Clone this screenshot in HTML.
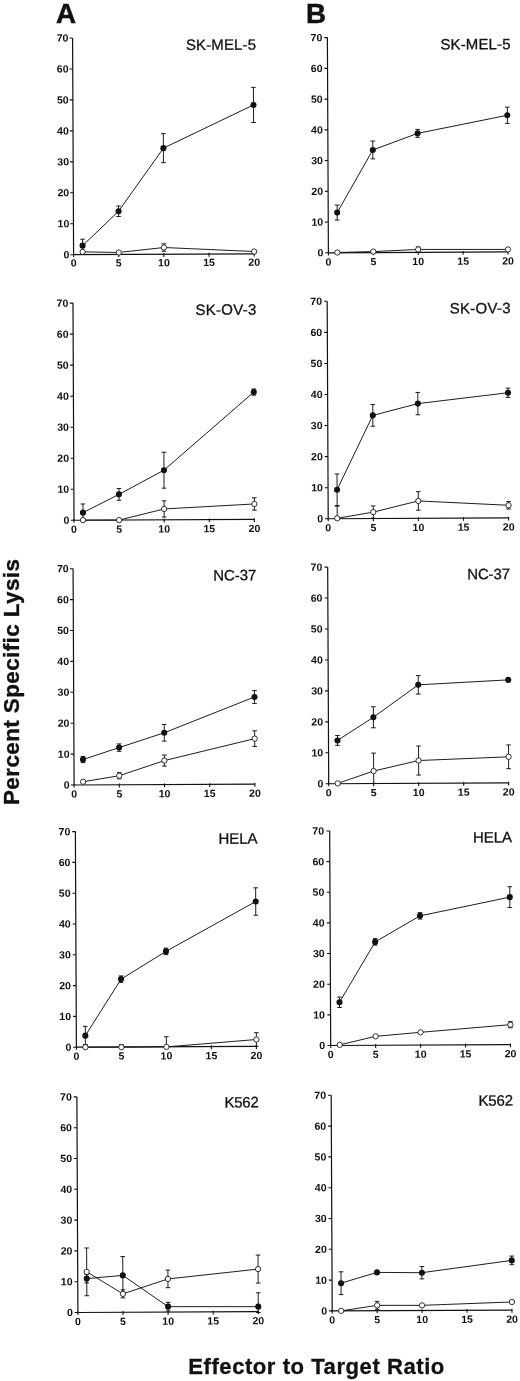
<!DOCTYPE html>
<html><head><meta charset="utf-8"><title>Figure</title>
<style>html,body{margin:0;padding:0;background:#fff}body{width:520px;height:1381px;overflow:hidden;font-family:"Liberation Sans",sans-serif}</style>
</head><body>
<svg width="520" height="1381" viewBox="0 0 520 1381" style="display:block;will-change:transform">
<rect width="520" height="1381" fill="#fff"/>
<g font-family="'Liberation Sans', sans-serif" fill="#111" font-weight="bold">
<text x="56.0" y="23.3" font-size="27.8" stroke="#111" stroke-width="0.5">A</text>
<text x="306.1" y="22.7" font-size="27.8" stroke="#111" stroke-width="0.5">B</text>
<text transform="translate(19.0,805) rotate(-90)" font-size="22.4" textLength="246" lengthAdjust="spacing" stroke="#111" stroke-width="0.35">Percent Specific Lysis</text>
<text x="188.3" y="1374.3" font-size="22.1" textLength="256" lengthAdjust="spacing" stroke="#111" stroke-width="0.3">Effector to Target Ratio</text>
</g>
<g transform="rotate(-0.27 73.60 254.70)">
<g stroke="#111" fill="none">
<path d="M73.60 37.98V254.70H254.20" stroke-width="1.2"/>
<path d="M70.40 254.70H73.60M70.40 223.74H73.60M70.40 192.78H73.60M70.40 161.82H73.60M70.40 130.86H73.60M70.40 99.90H73.60M70.40 68.94H73.60M70.40 37.98H73.60M73.60 253.50V257.30M118.75 253.50V257.30M163.90 253.50V257.30M209.05 253.50V257.30M254.20 253.50V257.30" stroke-width="1.1"/>
<polyline points="82.63,245.71 118.75,211.47 163.90,148.58 254.20,105.80" stroke-width="0.95"/>
<polyline points="82.63,251.88 118.75,252.67 163.90,247.94 254.20,252.38" stroke-width="0.95"/>
<path d="M82.63 245.71V239.23M80.33 239.23H84.93M82.63 245.71V252.19M80.33 252.19H84.93M118.75 211.47V206.23M116.45 206.23H121.05M118.75 211.47V216.72M116.45 216.72H121.05M163.90 148.58V134.07M161.60 134.07H166.20M163.90 148.58V163.08M161.60 163.08H166.20M254.20 105.80V88.21M251.90 88.21H256.50M254.20 105.80V123.39M251.90 123.39H256.50M163.90 247.94V244.24M161.60 244.24H166.20M163.90 247.94V251.65M161.60 251.65H166.20" stroke-width="0.95"/>
<circle cx="82.63" cy="245.71" r="3.05" fill="#111" stroke="none"/>
<circle cx="118.75" cy="211.47" r="3.05" fill="#111" stroke="none"/>
<circle cx="163.90" cy="148.58" r="3.05" fill="#111" stroke="none"/>
<circle cx="254.20" cy="105.80" r="3.05" fill="#111" stroke="none"/>
<circle cx="82.63" cy="251.88" r="2.65" fill="#fff" stroke-width="0.85"/>
<circle cx="118.75" cy="252.67" r="2.65" fill="#fff" stroke-width="0.85"/>
<circle cx="163.90" cy="247.94" r="2.65" fill="#fff" stroke-width="0.85"/>
<circle cx="254.20" cy="252.38" r="2.65" fill="#fff" stroke-width="0.85"/>
</g>
<g font-family="'Liberation Sans', sans-serif" fill="#111">
<text x="186.96" y="50.53" font-size="15" textLength="70.0" lengthAdjust="spacing" stroke="#111" stroke-width="0.3">SK-MEL-5</text>
<g font-size="10.4" font-weight="bold">
<text x="63.60" y="258.20" textLength="5.9" lengthAdjust="spacingAndGlyphs">0</text>
<text x="57.70" y="227.24" textLength="11.8" lengthAdjust="spacingAndGlyphs">10</text>
<text x="57.70" y="196.28" textLength="11.8" lengthAdjust="spacingAndGlyphs">20</text>
<text x="57.70" y="165.32" textLength="11.8" lengthAdjust="spacingAndGlyphs">30</text>
<text x="57.70" y="134.36" textLength="11.8" lengthAdjust="spacingAndGlyphs">40</text>
<text x="57.70" y="103.40" textLength="11.8" lengthAdjust="spacingAndGlyphs">50</text>
<text x="57.70" y="72.44" textLength="11.8" lengthAdjust="spacingAndGlyphs">60</text>
<text x="57.70" y="41.48" textLength="11.8" lengthAdjust="spacingAndGlyphs">70</text>
<text x="70.65" y="266.60" textLength="5.9" lengthAdjust="spacingAndGlyphs">0</text>
<text x="115.80" y="266.60" textLength="5.9" lengthAdjust="spacingAndGlyphs">5</text>
<text x="158.00" y="266.60" textLength="11.8" lengthAdjust="spacingAndGlyphs">10</text>
<text x="203.15" y="266.60" textLength="11.8" lengthAdjust="spacingAndGlyphs">15</text>
<text x="248.30" y="266.60" textLength="11.8" lengthAdjust="spacingAndGlyphs">20</text>
</g></g></g>
<g transform="rotate(-0.27 328.40 252.80)">
<g stroke="#111" fill="none">
<path d="M328.40 37.60V252.80H508.00" stroke-width="1.2"/>
<path d="M325.20 252.80H328.40M325.20 222.06H328.40M325.20 191.31H328.40M325.20 160.57H328.40M325.20 129.83H328.40M325.20 99.09H328.40M325.20 68.34H328.40M325.20 37.60H328.40M328.40 251.60V255.40M373.30 251.60V255.40M418.20 251.60V255.40M463.10 251.60V255.40M508.00 251.60V255.40" stroke-width="1.1"/>
<polyline points="337.38,212.63 373.30,150.17 418.20,133.81 508.00,116.12" stroke-width="0.95"/>
<polyline points="337.38,252.54 373.30,251.79 418.20,249.85 508.00,250.28" stroke-width="0.95"/>
<path d="M337.38 212.63V205.11M335.08 205.11H339.68M337.38 212.63V220.15M335.08 220.15H339.68M373.30 150.17V141.27M371.00 141.27H375.60M373.30 150.17V159.08M371.00 159.08H375.60M418.20 133.81V129.82M415.90 129.82H420.50M418.20 133.81V137.80M415.90 137.80H420.50M508.00 116.12V107.98M505.70 107.98H510.30M508.00 116.12V124.25M505.70 124.25H510.30M418.20 249.85V247.40M415.90 247.40H420.50M418.20 249.85V252.31M415.90 252.31H420.50" stroke-width="0.95"/>
<circle cx="337.38" cy="212.63" r="3.05" fill="#111" stroke="none"/>
<circle cx="373.30" cy="150.17" r="3.05" fill="#111" stroke="none"/>
<circle cx="418.20" cy="133.81" r="3.05" fill="#111" stroke="none"/>
<circle cx="508.00" cy="116.12" r="3.05" fill="#111" stroke="none"/>
<circle cx="337.38" cy="252.54" r="2.65" fill="#fff" stroke-width="0.85"/>
<circle cx="373.30" cy="251.79" r="2.65" fill="#fff" stroke-width="0.85"/>
<circle cx="418.20" cy="249.85" r="2.65" fill="#fff" stroke-width="0.85"/>
<circle cx="508.00" cy="250.28" r="2.65" fill="#fff" stroke-width="0.85"/>
</g>
<g font-family="'Liberation Sans', sans-serif" fill="#111">
<text x="441.46" y="50.03" font-size="15" textLength="70.0" lengthAdjust="spacing" stroke="#111" stroke-width="0.3">SK-MEL-5</text>
<g font-size="10.4" font-weight="bold">
<text x="317.50" y="256.30" textLength="5.9" lengthAdjust="spacingAndGlyphs">0</text>
<text x="311.60" y="225.56" textLength="11.8" lengthAdjust="spacingAndGlyphs">10</text>
<text x="311.60" y="194.81" textLength="11.8" lengthAdjust="spacingAndGlyphs">20</text>
<text x="311.60" y="164.07" textLength="11.8" lengthAdjust="spacingAndGlyphs">30</text>
<text x="311.60" y="133.33" textLength="11.8" lengthAdjust="spacingAndGlyphs">40</text>
<text x="311.60" y="102.59" textLength="11.8" lengthAdjust="spacingAndGlyphs">50</text>
<text x="311.60" y="71.84" textLength="11.8" lengthAdjust="spacingAndGlyphs">60</text>
<text x="311.60" y="41.10" textLength="11.8" lengthAdjust="spacingAndGlyphs">70</text>
<text x="325.45" y="265.40" textLength="5.9" lengthAdjust="spacingAndGlyphs">0</text>
<text x="370.35" y="265.40" textLength="5.9" lengthAdjust="spacingAndGlyphs">5</text>
<text x="412.30" y="265.40" textLength="11.8" lengthAdjust="spacingAndGlyphs">10</text>
<text x="457.20" y="265.40" textLength="11.8" lengthAdjust="spacingAndGlyphs">15</text>
<text x="502.10" y="265.40" textLength="11.8" lengthAdjust="spacingAndGlyphs">20</text>
</g></g></g>
<g transform="rotate(-0.27 74.00 520.25)">
<g stroke="#111" fill="none">
<path d="M74.00 303.10V520.25H254.40" stroke-width="1.2"/>
<path d="M70.80 520.25H74.00M70.80 489.23H74.00M70.80 458.21H74.00M70.80 427.19H74.00M70.80 396.16H74.00M70.80 365.14H74.00M70.80 334.12H74.00M70.80 303.10H74.00M74.00 519.05V522.85M119.10 519.05V522.85M164.20 519.05V522.85M209.30 519.05V522.85M254.40 519.05V522.85" stroke-width="1.1"/>
<polyline points="83.02,512.70 119.10,494.58 164.20,470.62 254.40,392.92" stroke-width="0.95"/>
<polyline points="83.02,520.14 119.10,520.31 164.20,509.37 254.40,504.83" stroke-width="0.95"/>
<path d="M83.02 512.70V504.02M80.72 504.02H85.32M83.02 512.70V521.38M80.72 521.38H85.32M119.10 494.58V488.69M116.80 488.69H121.40M119.10 494.58V500.47M116.80 500.47H121.40M164.20 470.62V452.64M161.90 452.64H166.50M164.20 470.62V488.60M161.90 488.60H166.50M254.40 392.92V389.82M252.10 389.82H256.70M254.40 392.92V396.02M252.10 396.02H256.70M164.20 509.37V501.31M161.90 501.31H166.50M164.20 509.37V517.43M161.90 517.43H166.50M254.40 504.83V498.63M252.10 498.63H256.70M254.40 504.83V511.03M252.10 511.03H256.70" stroke-width="0.95"/>
<circle cx="83.02" cy="512.70" r="3.05" fill="#111" stroke="none"/>
<circle cx="119.10" cy="494.58" r="3.05" fill="#111" stroke="none"/>
<circle cx="164.20" cy="470.62" r="3.05" fill="#111" stroke="none"/>
<circle cx="254.40" cy="392.92" r="3.05" fill="#111" stroke="none"/>
<circle cx="83.02" cy="520.14" r="2.65" fill="#fff" stroke-width="0.85"/>
<circle cx="119.10" cy="520.31" r="2.65" fill="#fff" stroke-width="0.85"/>
<circle cx="164.20" cy="509.37" r="2.65" fill="#fff" stroke-width="0.85"/>
<circle cx="254.40" cy="504.83" r="2.65" fill="#fff" stroke-width="0.85"/>
</g>
<g font-family="'Liberation Sans', sans-serif" fill="#111">
<text x="196.47" y="315.57" font-size="15" textLength="60.75" lengthAdjust="spacing" stroke="#111" stroke-width="0.3">SK-OV-3</text>
<g font-size="10.4" font-weight="bold">
<text x="63.50" y="523.75" textLength="5.9" lengthAdjust="spacingAndGlyphs">0</text>
<text x="57.60" y="492.73" textLength="11.8" lengthAdjust="spacingAndGlyphs">10</text>
<text x="57.60" y="461.71" textLength="11.8" lengthAdjust="spacingAndGlyphs">20</text>
<text x="57.60" y="430.69" textLength="11.8" lengthAdjust="spacingAndGlyphs">30</text>
<text x="57.60" y="399.66" textLength="11.8" lengthAdjust="spacingAndGlyphs">40</text>
<text x="57.60" y="368.64" textLength="11.8" lengthAdjust="spacingAndGlyphs">50</text>
<text x="57.60" y="337.62" textLength="11.8" lengthAdjust="spacingAndGlyphs">60</text>
<text x="57.60" y="306.60" textLength="11.8" lengthAdjust="spacingAndGlyphs">70</text>
<text x="71.05" y="532.85" textLength="5.9" lengthAdjust="spacingAndGlyphs">0</text>
<text x="116.15" y="532.85" textLength="5.9" lengthAdjust="spacingAndGlyphs">5</text>
<text x="158.30" y="532.85" textLength="11.8" lengthAdjust="spacingAndGlyphs">10</text>
<text x="203.40" y="532.85" textLength="11.8" lengthAdjust="spacingAndGlyphs">15</text>
<text x="248.50" y="532.85" textLength="11.8" lengthAdjust="spacingAndGlyphs">20</text>
</g></g></g>
<g transform="rotate(-0.27 328.20 518.75)">
<g stroke="#111" fill="none">
<path d="M328.20 301.30V518.75H508.60" stroke-width="1.2"/>
<path d="M325.00 518.75H328.20M325.00 487.69H328.20M325.00 456.62H328.20M325.00 425.56H328.20M325.00 394.49H328.20M325.00 363.43H328.20M325.00 332.36H328.20M325.00 301.30H328.20M328.20 517.55V521.35M373.30 517.55V521.35M418.40 517.55V521.35M463.50 517.55V521.35M508.60 517.55V521.35" stroke-width="1.1"/>
<polyline points="337.22,489.82 373.30,415.59 418.40,404.03 508.60,393.60" stroke-width="0.95"/>
<polyline points="337.22,518.34 373.30,512.31 418.40,501.37 508.60,506.13" stroke-width="0.95"/>
<path d="M337.22 489.82V474.01M334.92 474.01H339.52M337.22 489.82V505.63M334.92 505.63H339.52M373.30 415.59V404.74M371.00 404.74H375.60M373.30 415.59V426.44M371.00 426.44H375.60M418.40 404.03V392.87M416.10 392.87H420.70M418.40 404.03V415.19M416.10 415.19H420.70M508.60 393.60V388.95M506.30 388.95H510.90M508.60 393.60V398.25M506.30 398.25H510.90M337.22 518.34V506.25M334.92 506.25H339.52M373.30 512.31V506.11M371.00 506.11H375.60M373.30 512.31V518.51M371.00 518.51H375.60M418.40 501.37V492.07M416.10 492.07H420.70M418.40 501.37V510.67M416.10 510.67H420.70M508.60 506.13V502.41M506.30 502.41H510.90M508.60 506.13V509.85M506.30 509.85H510.90" stroke-width="0.95"/>
<circle cx="337.22" cy="489.82" r="3.05" fill="#111" stroke="none"/>
<circle cx="373.30" cy="415.59" r="3.05" fill="#111" stroke="none"/>
<circle cx="418.40" cy="404.03" r="3.05" fill="#111" stroke="none"/>
<circle cx="508.60" cy="393.60" r="3.05" fill="#111" stroke="none"/>
<circle cx="337.22" cy="518.34" r="2.65" fill="#fff" stroke-width="0.85"/>
<circle cx="373.30" cy="512.31" r="2.65" fill="#fff" stroke-width="0.85"/>
<circle cx="418.40" cy="501.37" r="2.65" fill="#fff" stroke-width="0.85"/>
<circle cx="508.60" cy="506.13" r="2.65" fill="#fff" stroke-width="0.85"/>
</g>
<g font-family="'Liberation Sans', sans-serif" fill="#111">
<text x="450.72" y="314.08" font-size="15" textLength="60.75" lengthAdjust="spacing" stroke="#111" stroke-width="0.3">SK-OV-3</text>
<g font-size="10.4" font-weight="bold">
<text x="317.20" y="522.25" textLength="5.9" lengthAdjust="spacingAndGlyphs">0</text>
<text x="311.30" y="491.19" textLength="11.8" lengthAdjust="spacingAndGlyphs">10</text>
<text x="311.30" y="460.12" textLength="11.8" lengthAdjust="spacingAndGlyphs">20</text>
<text x="311.30" y="429.06" textLength="11.8" lengthAdjust="spacingAndGlyphs">30</text>
<text x="311.30" y="397.99" textLength="11.8" lengthAdjust="spacingAndGlyphs">40</text>
<text x="311.30" y="366.93" textLength="11.8" lengthAdjust="spacingAndGlyphs">50</text>
<text x="311.30" y="335.86" textLength="11.8" lengthAdjust="spacingAndGlyphs">60</text>
<text x="311.30" y="304.80" textLength="11.8" lengthAdjust="spacingAndGlyphs">70</text>
<text x="325.25" y="531.35" textLength="5.9" lengthAdjust="spacingAndGlyphs">0</text>
<text x="370.35" y="531.35" textLength="5.9" lengthAdjust="spacingAndGlyphs">5</text>
<text x="412.50" y="531.35" textLength="11.8" lengthAdjust="spacingAndGlyphs">10</text>
<text x="457.60" y="531.35" textLength="11.8" lengthAdjust="spacingAndGlyphs">15</text>
<text x="502.70" y="531.35" textLength="11.8" lengthAdjust="spacingAndGlyphs">20</text>
</g></g></g>
<g transform="rotate(-0.27 74.10 785.00)">
<g stroke="#111" fill="none">
<path d="M74.10 568.70V785.00H254.90" stroke-width="1.2"/>
<path d="M70.90 785.00H74.10M70.90 754.10H74.10M70.90 723.20H74.10M70.90 692.30H74.10M70.90 661.40H74.10M70.90 630.50H74.10M70.90 599.60H74.10M70.90 568.70H74.10M74.10 783.80V787.60M119.30 783.80V787.60M164.50 783.80V787.60M209.70 783.80V787.60M254.90 783.80V787.60" stroke-width="1.1"/>
<polyline points="83.14,759.55 119.30,747.82 164.50,733.20 254.90,697.79" stroke-width="0.95"/>
<polyline points="83.14,781.80 119.30,775.94 164.50,761.01 254.90,739.50" stroke-width="0.95"/>
<path d="M83.14 759.55V756.46M80.84 756.46H85.44M83.14 759.55V762.64M80.84 762.64H85.44M119.30 747.82V744.12M117.00 744.12H121.60M119.30 747.82V751.53M117.00 751.53H121.60M164.50 733.20V724.86M162.20 724.86H166.80M164.50 733.20V741.55M162.20 741.55H166.80M254.90 697.79V691.30M252.60 691.30H257.20M254.90 697.79V704.28M252.60 704.28H257.20M119.30 775.94V772.85M117.00 772.85H121.60M119.30 775.94V779.03M117.00 779.03H121.60M164.50 761.01V755.45M162.20 755.45H166.80M164.50 761.01V766.58M162.20 766.58H166.80M254.90 739.50V731.62M252.60 731.62H257.20M254.90 739.50V747.38M252.60 747.38H257.20" stroke-width="0.95"/>
<circle cx="83.14" cy="759.55" r="3.05" fill="#111" stroke="none"/>
<circle cx="119.30" cy="747.82" r="3.05" fill="#111" stroke="none"/>
<circle cx="164.50" cy="733.20" r="3.05" fill="#111" stroke="none"/>
<circle cx="254.90" cy="697.79" r="3.05" fill="#111" stroke="none"/>
<circle cx="83.14" cy="781.80" r="2.65" fill="#fff" stroke-width="0.85"/>
<circle cx="119.30" cy="775.94" r="2.65" fill="#fff" stroke-width="0.85"/>
<circle cx="164.50" cy="761.01" r="2.65" fill="#fff" stroke-width="0.85"/>
<circle cx="254.90" cy="739.50" r="2.65" fill="#fff" stroke-width="0.85"/>
</g>
<g font-family="'Liberation Sans', sans-serif" fill="#111">
<text x="214.21" y="581.16" font-size="15" textLength="43.0" lengthAdjust="spacing" stroke="#111" stroke-width="0.3">NC-37</text>
<g font-size="10.4" font-weight="bold">
<text x="63.85" y="788.50" textLength="5.9" lengthAdjust="spacingAndGlyphs">0</text>
<text x="57.95" y="757.60" textLength="11.8" lengthAdjust="spacingAndGlyphs">10</text>
<text x="57.95" y="726.70" textLength="11.8" lengthAdjust="spacingAndGlyphs">20</text>
<text x="57.95" y="695.80" textLength="11.8" lengthAdjust="spacingAndGlyphs">30</text>
<text x="57.95" y="664.90" textLength="11.8" lengthAdjust="spacingAndGlyphs">40</text>
<text x="57.95" y="634.00" textLength="11.8" lengthAdjust="spacingAndGlyphs">50</text>
<text x="57.95" y="603.10" textLength="11.8" lengthAdjust="spacingAndGlyphs">60</text>
<text x="57.95" y="572.20" textLength="11.8" lengthAdjust="spacingAndGlyphs">70</text>
<text x="71.15" y="797.60" textLength="5.9" lengthAdjust="spacingAndGlyphs">0</text>
<text x="116.35" y="797.60" textLength="5.9" lengthAdjust="spacingAndGlyphs">5</text>
<text x="158.60" y="797.60" textLength="11.8" lengthAdjust="spacingAndGlyphs">10</text>
<text x="203.80" y="797.60" textLength="11.8" lengthAdjust="spacingAndGlyphs">15</text>
<text x="249.00" y="797.60" textLength="11.8" lengthAdjust="spacingAndGlyphs">20</text>
</g></g></g>
<g transform="rotate(-0.27 328.70 783.75)">
<g stroke="#111" fill="none">
<path d="M328.70 567.10V783.75H508.70" stroke-width="1.2"/>
<path d="M325.50 783.75H328.70M325.50 752.80H328.70M325.50 721.85H328.70M325.50 690.90H328.70M325.50 659.95H328.70M325.50 629.00H328.70M325.50 598.05H328.70M325.50 567.10H328.70M328.70 782.55V786.35M373.70 782.55V786.35M418.70 782.55V786.35M463.70 782.55V786.35M508.70 782.55V786.35" stroke-width="1.1"/>
<polyline points="337.70,740.49 373.70,717.49 418.70,685.25 508.70,680.73" stroke-width="0.95"/>
<polyline points="337.70,783.44 373.70,771.25 418.70,760.96 508.70,757.67" stroke-width="0.95"/>
<path d="M337.70 740.49V735.55M335.40 735.55H340.00M337.70 740.49V745.44M335.40 745.44H340.00M373.70 717.49V706.98M371.40 706.98H376.00M373.70 717.49V727.99M371.40 727.99H376.00M418.70 685.25V675.98M416.40 675.98H421.00M418.70 685.25V694.52M416.40 694.52H421.00M373.70 771.25V753.33M371.40 753.33H376.00M373.70 771.25V783.61M371.40 783.61H376.00M418.70 760.96V746.44M416.40 746.44H421.00M418.70 760.96V775.48M416.40 775.48H421.00M508.70 757.67V745.78M506.40 745.78H511.00M508.70 757.67V769.57M506.40 769.57H511.00" stroke-width="0.95"/>
<circle cx="337.70" cy="740.49" r="3.05" fill="#111" stroke="none"/>
<circle cx="373.70" cy="717.49" r="3.05" fill="#111" stroke="none"/>
<circle cx="418.70" cy="685.25" r="3.05" fill="#111" stroke="none"/>
<circle cx="508.70" cy="680.73" r="3.05" fill="#111" stroke="none"/>
<circle cx="337.70" cy="783.44" r="2.65" fill="#fff" stroke-width="0.85"/>
<circle cx="373.70" cy="771.25" r="2.65" fill="#fff" stroke-width="0.85"/>
<circle cx="418.70" cy="760.96" r="2.65" fill="#fff" stroke-width="0.85"/>
<circle cx="508.70" cy="757.67" r="2.65" fill="#fff" stroke-width="0.85"/>
</g>
<g font-family="'Liberation Sans', sans-serif" fill="#111">
<text x="468.21" y="579.91" font-size="15" textLength="42.75" lengthAdjust="spacing" stroke="#111" stroke-width="0.3">NC-37</text>
<g font-size="10.4" font-weight="bold">
<text x="317.45" y="787.25" textLength="5.9" lengthAdjust="spacingAndGlyphs">0</text>
<text x="311.55" y="756.30" textLength="11.8" lengthAdjust="spacingAndGlyphs">10</text>
<text x="311.55" y="725.35" textLength="11.8" lengthAdjust="spacingAndGlyphs">20</text>
<text x="311.55" y="694.40" textLength="11.8" lengthAdjust="spacingAndGlyphs">30</text>
<text x="311.55" y="663.45" textLength="11.8" lengthAdjust="spacingAndGlyphs">40</text>
<text x="311.55" y="632.50" textLength="11.8" lengthAdjust="spacingAndGlyphs">50</text>
<text x="311.55" y="601.55" textLength="11.8" lengthAdjust="spacingAndGlyphs">60</text>
<text x="311.55" y="570.60" textLength="11.8" lengthAdjust="spacingAndGlyphs">70</text>
<text x="325.75" y="796.35" textLength="5.9" lengthAdjust="spacingAndGlyphs">0</text>
<text x="370.75" y="796.35" textLength="5.9" lengthAdjust="spacingAndGlyphs">5</text>
<text x="412.80" y="796.35" textLength="11.8" lengthAdjust="spacingAndGlyphs">10</text>
<text x="457.80" y="796.35" textLength="11.8" lengthAdjust="spacingAndGlyphs">15</text>
<text x="502.80" y="796.35" textLength="11.8" lengthAdjust="spacingAndGlyphs">20</text>
</g></g></g>
<g transform="rotate(-0.27 76.40 1047.20)">
<g stroke="#111" fill="none">
<path d="M76.40 831.60V1047.20H256.40" stroke-width="1.2"/>
<path d="M73.20 1047.20H76.40M73.20 1016.40H76.40M73.20 985.60H76.40M73.20 954.80H76.40M73.20 924.00H76.40M73.20 893.20H76.40M73.20 862.40H76.40M73.20 831.60H76.40M76.40 1046.00V1049.80M121.40 1046.00V1049.80M166.40 1046.00V1049.80M211.40 1046.00V1049.80M256.40 1046.00V1049.80" stroke-width="1.1"/>
<polyline points="85.40,1035.69 121.40,979.34 166.40,951.84 256.40,902.36" stroke-width="0.95"/>
<polyline points="85.40,1047.24 121.40,1047.41 166.40,1047.32 256.40,1040.35" stroke-width="0.95"/>
<path d="M85.40 1035.69V1026.45M83.10 1026.45H87.70M85.40 1035.69V1044.93M83.10 1044.93H87.70M121.40 979.34V976.11M119.10 976.11H123.70M121.40 979.34V982.58M119.10 982.58H123.70M166.40 951.84V948.60M164.10 948.60H168.70M166.40 951.84V955.07M164.10 955.07H168.70M256.40 902.36V888.66M254.10 888.66H258.70M256.40 902.36V916.07M254.10 916.07H258.70M85.40 1047.24V1044.78M83.10 1044.78H87.70M121.40 1047.41V1044.95M119.10 1044.95H123.70M166.40 1047.32V1037.15M164.10 1037.15H168.70M256.40 1040.35V1033.57M254.10 1033.57H258.70M256.40 1040.35V1047.12M254.10 1047.12H258.70" stroke-width="0.95"/>
<circle cx="85.40" cy="1035.69" r="3.05" fill="#111" stroke="none"/>
<circle cx="121.40" cy="979.34" r="3.05" fill="#111" stroke="none"/>
<circle cx="166.40" cy="951.84" r="3.05" fill="#111" stroke="none"/>
<circle cx="256.40" cy="902.36" r="3.05" fill="#111" stroke="none"/>
<circle cx="85.40" cy="1047.24" r="2.65" fill="#fff" stroke-width="0.85"/>
<circle cx="121.40" cy="1047.41" r="2.65" fill="#fff" stroke-width="0.85"/>
<circle cx="166.40" cy="1047.32" r="2.65" fill="#fff" stroke-width="0.85"/>
<circle cx="256.40" cy="1040.35" r="2.65" fill="#fff" stroke-width="0.85"/>
</g>
<g font-family="'Liberation Sans', sans-serif" fill="#111">
<text x="219.56" y="844.42" font-size="15" textLength="38.9" lengthAdjust="spacing" stroke="#111" stroke-width="0.3">HELA</text>
<g font-size="10.4" font-weight="bold">
<text x="65.40" y="1050.70" textLength="5.9" lengthAdjust="spacingAndGlyphs">0</text>
<text x="59.50" y="1019.90" textLength="11.8" lengthAdjust="spacingAndGlyphs">10</text>
<text x="59.50" y="989.10" textLength="11.8" lengthAdjust="spacingAndGlyphs">20</text>
<text x="59.50" y="958.30" textLength="11.8" lengthAdjust="spacingAndGlyphs">30</text>
<text x="59.50" y="927.50" textLength="11.8" lengthAdjust="spacingAndGlyphs">40</text>
<text x="59.50" y="896.70" textLength="11.8" lengthAdjust="spacingAndGlyphs">50</text>
<text x="59.50" y="865.90" textLength="11.8" lengthAdjust="spacingAndGlyphs">60</text>
<text x="59.50" y="835.10" textLength="11.8" lengthAdjust="spacingAndGlyphs">70</text>
<text x="73.45" y="1059.80" textLength="5.9" lengthAdjust="spacingAndGlyphs">0</text>
<text x="118.45" y="1059.80" textLength="5.9" lengthAdjust="spacingAndGlyphs">5</text>
<text x="160.50" y="1059.80" textLength="11.8" lengthAdjust="spacingAndGlyphs">10</text>
<text x="205.50" y="1059.80" textLength="11.8" lengthAdjust="spacingAndGlyphs">15</text>
<text x="250.50" y="1059.80" textLength="11.8" lengthAdjust="spacingAndGlyphs">20</text>
</g></g></g>
<g transform="rotate(-0.27 330.70 1045.50)">
<g stroke="#111" fill="none">
<path d="M330.70 830.95V1045.50H510.50" stroke-width="1.2"/>
<path d="M327.50 1045.50H330.70M327.50 1014.85H330.70M327.50 984.20H330.70M327.50 953.55H330.70M327.50 922.90H330.70M327.50 892.25H330.70M327.50 861.60H330.70M327.50 830.95H330.70M330.70 1044.30V1048.10M375.65 1044.30V1048.10M420.60 1044.30V1048.10M465.55 1044.30V1048.10M510.50 1044.30V1048.10" stroke-width="1.1"/>
<polyline points="339.69,1002.33 375.65,942.11 420.60,916.27 510.50,898.00" stroke-width="0.95"/>
<polyline points="339.69,1044.93 375.65,1036.52 420.60,1032.74 510.50,1025.51" stroke-width="0.95"/>
<path d="M339.69 1002.33V997.12M337.39 997.12H341.99M339.69 1002.33V1007.54M337.39 1007.54H341.99M375.65 942.11V938.90M373.35 938.90H377.95M375.65 942.11V945.33M373.35 945.33H377.95M420.60 916.27V913.06M418.30 913.06H422.90M420.60 916.27V919.49M418.30 919.49H422.90M510.50 898.00V887.58M508.20 887.58H512.80M510.50 898.00V908.42M508.20 908.42H512.80M510.50 1025.51V1022.44M508.20 1022.44H512.80M510.50 1025.51V1028.57M508.20 1028.57H512.80" stroke-width="0.95"/>
<circle cx="339.69" cy="1002.33" r="3.05" fill="#111" stroke="none"/>
<circle cx="375.65" cy="942.11" r="3.05" fill="#111" stroke="none"/>
<circle cx="420.60" cy="916.27" r="3.05" fill="#111" stroke="none"/>
<circle cx="510.50" cy="898.00" r="3.05" fill="#111" stroke="none"/>
<circle cx="339.69" cy="1044.93" r="2.65" fill="#fff" stroke-width="0.85"/>
<circle cx="375.65" cy="1036.52" r="2.65" fill="#fff" stroke-width="0.85"/>
<circle cx="420.60" cy="1032.74" r="2.65" fill="#fff" stroke-width="0.85"/>
<circle cx="510.50" cy="1025.51" r="2.65" fill="#fff" stroke-width="0.85"/>
</g>
<g font-family="'Liberation Sans', sans-serif" fill="#111">
<text x="473.96" y="843.17" font-size="15" textLength="39.0" lengthAdjust="spacing" stroke="#111" stroke-width="0.3">HELA</text>
<g font-size="10.4" font-weight="bold">
<text x="319.20" y="1049.00" textLength="5.9" lengthAdjust="spacingAndGlyphs">0</text>
<text x="313.30" y="1018.35" textLength="11.8" lengthAdjust="spacingAndGlyphs">10</text>
<text x="313.30" y="987.70" textLength="11.8" lengthAdjust="spacingAndGlyphs">20</text>
<text x="313.30" y="957.05" textLength="11.8" lengthAdjust="spacingAndGlyphs">30</text>
<text x="313.30" y="926.40" textLength="11.8" lengthAdjust="spacingAndGlyphs">40</text>
<text x="313.30" y="895.75" textLength="11.8" lengthAdjust="spacingAndGlyphs">50</text>
<text x="313.30" y="865.10" textLength="11.8" lengthAdjust="spacingAndGlyphs">60</text>
<text x="313.30" y="834.45" textLength="11.8" lengthAdjust="spacingAndGlyphs">70</text>
<text x="327.75" y="1058.10" textLength="5.9" lengthAdjust="spacingAndGlyphs">0</text>
<text x="372.70" y="1058.10" textLength="5.9" lengthAdjust="spacingAndGlyphs">5</text>
<text x="414.70" y="1058.10" textLength="11.8" lengthAdjust="spacingAndGlyphs">10</text>
<text x="459.65" y="1058.10" textLength="11.8" lengthAdjust="spacingAndGlyphs">15</text>
<text x="504.60" y="1058.10" textLength="11.8" lengthAdjust="spacingAndGlyphs">20</text>
</g></g></g>
<g transform="rotate(-0.27 77.90 1312.50)">
<g stroke="#111" fill="none">
<path d="M77.90 1096.90V1312.50H258.30" stroke-width="1.2"/>
<path d="M74.70 1312.50H77.90M74.70 1281.70H77.90M74.70 1250.90H77.90M74.70 1220.10H77.90M74.70 1189.30H77.90M74.70 1158.50H77.90M74.70 1127.70H77.90M74.70 1096.90H77.90M77.90 1311.30V1315.10M123.00 1311.30V1315.10M168.10 1311.30V1315.10M213.20 1311.30V1315.10M258.30 1311.30V1315.10" stroke-width="1.1"/>
<polyline points="86.92,1278.66 123.00,1275.60 168.10,1307.07 258.30,1307.50" stroke-width="0.95"/>
<polyline points="86.92,1271.89 123.00,1294.08 168.10,1279.35 258.30,1269.92" stroke-width="0.95"/>
<path d="M86.92 1278.66V1274.35M84.62 1274.35H89.22M86.92 1278.66V1282.97M84.62 1282.97H89.22M123.00 1275.60V1256.81M120.70 1256.81H125.30M123.00 1275.60V1294.39M120.70 1294.39H125.30M168.10 1307.07V1302.76M165.80 1302.76H170.40M168.10 1307.07V1311.39M165.80 1311.39H170.40M258.30 1307.50V1293.64M256.00 1293.64H260.60M258.30 1307.50V1313.35M256.00 1313.35H260.60M86.92 1271.89V1248.02M84.62 1248.02H89.22M86.92 1271.89V1295.76M84.62 1295.76H89.22M123.00 1294.08V1290.07M120.70 1290.07H125.30M123.00 1294.08V1298.08M120.70 1298.08H125.30M168.10 1279.35V1270.58M165.80 1270.58H170.40M168.10 1279.35V1288.13M165.80 1288.13H170.40M258.30 1269.92V1255.91M256.00 1255.91H260.60M258.30 1269.92V1283.94M256.00 1283.94H260.60" stroke-width="0.95"/>
<circle cx="86.92" cy="1278.66" r="3.05" fill="#111" stroke="none"/>
<circle cx="123.00" cy="1275.60" r="3.05" fill="#111" stroke="none"/>
<circle cx="168.10" cy="1307.07" r="3.05" fill="#111" stroke="none"/>
<circle cx="258.30" cy="1307.50" r="3.05" fill="#111" stroke="none"/>
<circle cx="86.92" cy="1271.89" r="2.65" fill="#fff" stroke-width="0.85"/>
<circle cx="123.00" cy="1294.08" r="2.65" fill="#fff" stroke-width="0.85"/>
<circle cx="168.10" cy="1279.35" r="2.65" fill="#fff" stroke-width="0.85"/>
<circle cx="258.30" cy="1269.92" r="2.65" fill="#fff" stroke-width="0.85"/>
</g>
<g font-family="'Liberation Sans', sans-serif" fill="#111">
<text x="225.51" y="1108.19" font-size="15" textLength="34.2" lengthAdjust="spacing" stroke="#111" stroke-width="0.3">K562</text>
<g font-size="10.4" font-weight="bold">
<text x="66.90" y="1316.00" textLength="5.9" lengthAdjust="spacingAndGlyphs">0</text>
<text x="61.00" y="1285.20" textLength="11.8" lengthAdjust="spacingAndGlyphs">10</text>
<text x="61.00" y="1254.40" textLength="11.8" lengthAdjust="spacingAndGlyphs">20</text>
<text x="61.00" y="1223.60" textLength="11.8" lengthAdjust="spacingAndGlyphs">30</text>
<text x="61.00" y="1192.80" textLength="11.8" lengthAdjust="spacingAndGlyphs">40</text>
<text x="61.00" y="1162.00" textLength="11.8" lengthAdjust="spacingAndGlyphs">50</text>
<text x="61.00" y="1131.20" textLength="11.8" lengthAdjust="spacingAndGlyphs">60</text>
<text x="61.00" y="1100.40" textLength="11.8" lengthAdjust="spacingAndGlyphs">70</text>
<text x="74.95" y="1325.10" textLength="5.9" lengthAdjust="spacingAndGlyphs">0</text>
<text x="120.05" y="1325.10" textLength="5.9" lengthAdjust="spacingAndGlyphs">5</text>
<text x="162.20" y="1325.10" textLength="11.8" lengthAdjust="spacingAndGlyphs">10</text>
<text x="207.30" y="1325.10" textLength="11.8" lengthAdjust="spacingAndGlyphs">15</text>
<text x="252.40" y="1325.10" textLength="11.8" lengthAdjust="spacingAndGlyphs">20</text>
</g></g></g>
<g transform="rotate(-0.27 332.20 1310.90)">
<g stroke="#111" fill="none">
<path d="M332.20 1095.30V1310.90H512.00" stroke-width="1.2"/>
<path d="M329.00 1310.90H332.20M329.00 1280.10H332.20M329.00 1249.30H332.20M329.00 1218.50H332.20M329.00 1187.70H332.20M329.00 1156.90H332.20M329.00 1126.10H332.20M329.00 1095.30H332.20M332.20 1309.70V1313.50M377.15 1309.70V1313.50M422.10 1309.70V1313.50M467.05 1309.70V1313.50M512.00 1309.70V1313.50" stroke-width="1.1"/>
<polyline points="341.19,1283.22 377.15,1272.61 422.10,1273.13 512.00,1261.24" stroke-width="0.95"/>
<polyline points="341.19,1310.94 377.15,1305.57 422.10,1305.78 512.00,1302.82" stroke-width="0.95"/>
<path d="M341.19 1283.22V1271.83M338.89 1271.83H343.49M341.19 1283.22V1294.62M338.89 1294.62H343.49M422.10 1273.13V1266.97M419.80 1266.97H424.40M422.10 1273.13V1279.29M419.80 1279.29H424.40M512.00 1261.24V1256.92M509.70 1256.92H514.30M512.00 1261.24V1265.55M509.70 1265.55H514.30M377.15 1305.57V1301.56M374.85 1301.56H379.45M377.15 1305.57V1309.57M374.85 1309.57H379.45" stroke-width="0.95"/>
<circle cx="341.19" cy="1283.22" r="3.05" fill="#111" stroke="none"/>
<circle cx="377.15" cy="1272.61" r="3.05" fill="#111" stroke="none"/>
<circle cx="422.10" cy="1273.13" r="3.05" fill="#111" stroke="none"/>
<circle cx="512.00" cy="1261.24" r="3.05" fill="#111" stroke="none"/>
<circle cx="341.19" cy="1310.94" r="2.65" fill="#fff" stroke-width="0.85"/>
<circle cx="377.15" cy="1305.57" r="2.65" fill="#fff" stroke-width="0.85"/>
<circle cx="422.10" cy="1305.78" r="2.65" fill="#fff" stroke-width="0.85"/>
<circle cx="512.00" cy="1302.82" r="2.65" fill="#fff" stroke-width="0.85"/>
</g>
<g font-family="'Liberation Sans', sans-serif" fill="#111">
<text x="479.47" y="1106.44" font-size="15" textLength="34.5" lengthAdjust="spacing" stroke="#111" stroke-width="0.3">K562</text>
<g font-size="10.4" font-weight="bold">
<text x="321.20" y="1314.40" textLength="5.9" lengthAdjust="spacingAndGlyphs">0</text>
<text x="315.30" y="1283.60" textLength="11.8" lengthAdjust="spacingAndGlyphs">10</text>
<text x="315.30" y="1252.80" textLength="11.8" lengthAdjust="spacingAndGlyphs">20</text>
<text x="315.30" y="1222.00" textLength="11.8" lengthAdjust="spacingAndGlyphs">30</text>
<text x="315.30" y="1191.20" textLength="11.8" lengthAdjust="spacingAndGlyphs">40</text>
<text x="315.30" y="1160.40" textLength="11.8" lengthAdjust="spacingAndGlyphs">50</text>
<text x="315.30" y="1129.60" textLength="11.8" lengthAdjust="spacingAndGlyphs">60</text>
<text x="315.30" y="1098.80" textLength="11.8" lengthAdjust="spacingAndGlyphs">70</text>
<text x="329.25" y="1323.50" textLength="5.9" lengthAdjust="spacingAndGlyphs">0</text>
<text x="374.20" y="1323.50" textLength="5.9" lengthAdjust="spacingAndGlyphs">5</text>
<text x="416.20" y="1323.50" textLength="11.8" lengthAdjust="spacingAndGlyphs">10</text>
<text x="461.15" y="1323.50" textLength="11.8" lengthAdjust="spacingAndGlyphs">15</text>
<text x="506.10" y="1323.50" textLength="11.8" lengthAdjust="spacingAndGlyphs">20</text>
</g></g></g>
</svg>
</body></html>
